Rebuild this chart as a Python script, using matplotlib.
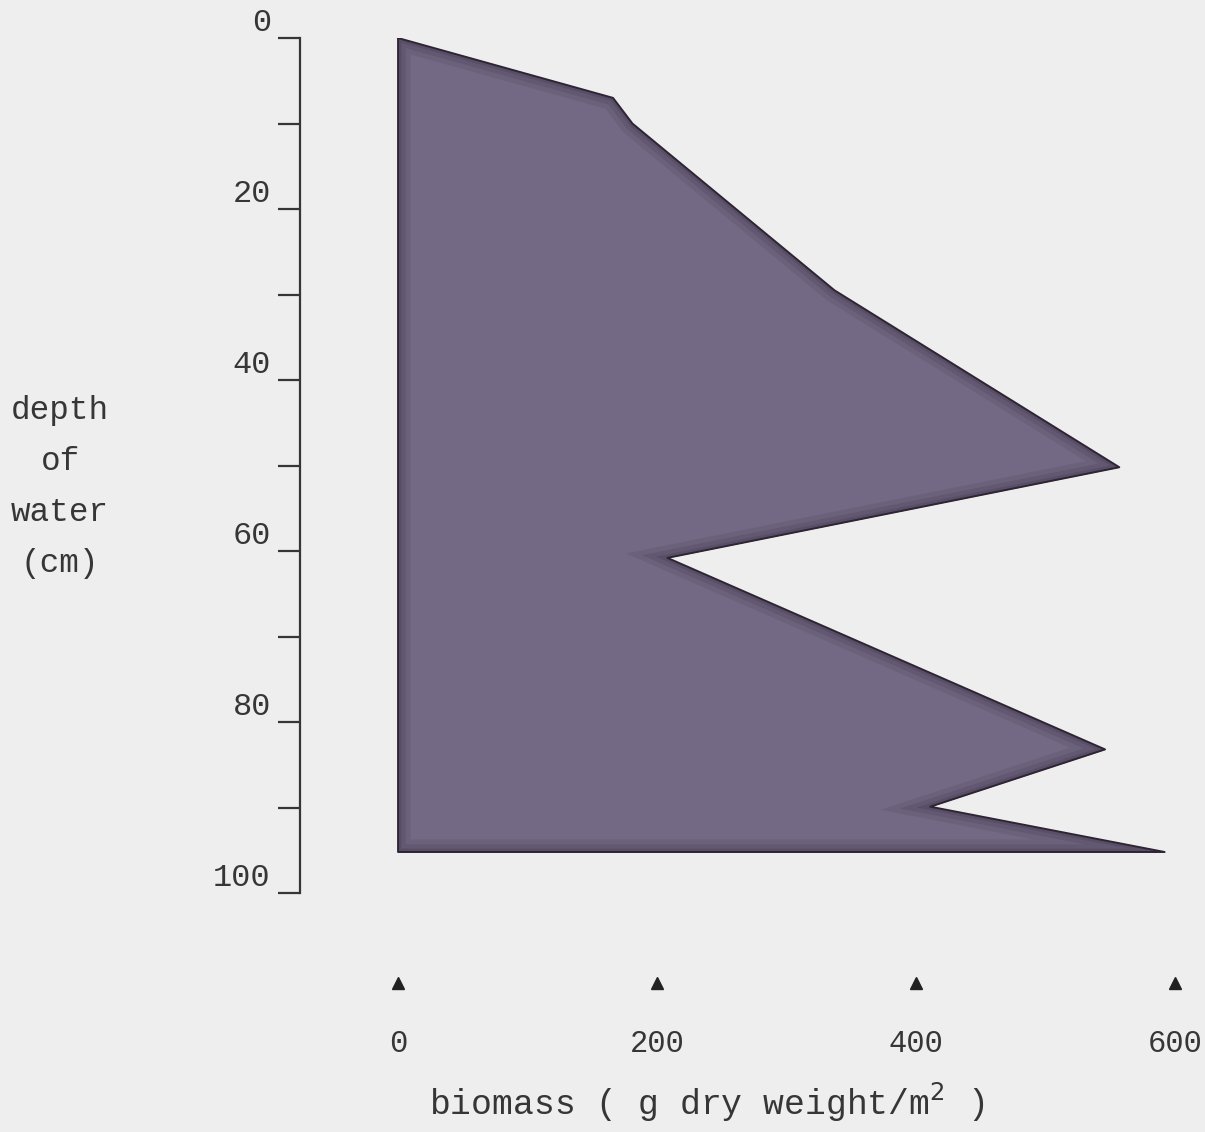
import numpy as np
import matplotlib
matplotlib.use("Agg")
import matplotlib.pyplot as plt
from matplotlib.ticker import MultipleLocator

# biomass profile against water depth
depth = [0, 7, 10, 29.5, 50.2, 60.8, 83.2, 89.9, 95.2]
biomass = [0, 166, 181, 337, 557, 208, 546, 411, 592]

depth_ticks = [0, 20, 40, 60, 80, 100]
biomass_ticks = [0, 200, 400, 600]

paper = '#eeeeee'
fill_col = '#736984'
edge_col = '#2e2433'
ink = '#363636'
font = 'Liberation Mono'

fig = plt.figure(figsize=(12.05, 11.32), dpi=100, facecolor=paper)
ax = fig.add_axes([0.249, 0.2111, 0.751, 0.7553])
ax.set_facecolor(paper)

ax.set_ylim(100, 0)
ax.set_xlim(-75.7, 623.2)

# shaded profile
poly = ax.fill_betweenx(depth, 0, biomass, color=fill_col, lw=0)
outline_x = [0] + biomass + [0, 0]
outline_y = [depth[0]] + depth + [depth[-1], depth[0]]
# darker rim along the edge of the shading, fading inwards
clip = poly.get_paths()[0]
for lw, a in [(18, 0.12), (11, 0.15), (5, 0.2)]:
    rim = ax.plot(outline_x, outline_y, color='#33283a', lw=lw, alpha=a,
                  solid_joinstyle='miter')[0]
    rim.set_clip_path(clip, ax.transData)
ax.plot(outline_x, outline_y, color=edge_col, lw=1.4)

# axes: left spine only
for s in ['top', 'right', 'bottom']:
    ax.spines[s].set_visible(False)
ax.spines['left'].set_color(ink)
ax.spines['left'].set_linewidth(1.6)

ax.set_yticks(depth_ticks)
ax.yaxis.set_minor_locator(MultipleLocator(10))
ax.tick_params(axis='y', which='both', direction='out', length=16, width=1.6,
               color=ink, pad=5)
ax.set_yticklabels([str(v) for v in depth_ticks], fontsize=23,
                   family=font, color=ink)
for lab in ax.get_yticklabels():
    lab.set_verticalalignment('bottom')

ax.set_xticks(biomass_ticks)
ax.set_xticklabels([str(v) for v in biomass_ticks], fontsize=22,
                   family=font, color=ink)
ax.tick_params(axis='x', length=0, pad=98)

# triangle markers under each biomass tick
ax.plot(biomass_ticks, [-0.105] * len(biomass_ticks), '^', color='#222222',
        ms=9, transform=ax.get_xaxis_transform(), clip_on=False)

fig.text(0.586, 0.026, 'biomass ( g dry weight/m$^2$ )', ha='center',
         va='center', fontsize=25, family=font, color=ink)
fig.text(0.05, 0.570, 'depth\nof\nwater\n(cm)', ha='center', va='center',
         fontsize=23.5, family=font, color=ink, linespacing=1.84)

fig.savefig('out.png', dpi=100, facecolor=paper)
